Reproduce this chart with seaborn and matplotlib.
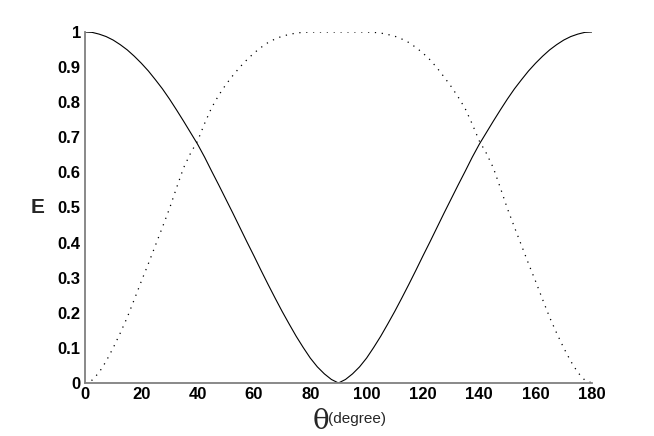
import matplotlib
matplotlib.use("Agg")
import matplotlib.pyplot as plt
import seaborn as sns
import pandas as pd

# angle in degrees, every 2.5 degrees
theta = [0, 2.5, 5, 7.5, 10, 12.5, 15, 17.5, 20, 22.5, 25, 27.5, 30, 32.5, 35, 37.5, 40, 42.5,
         45, 47.5, 50, 52.5, 55, 57.5, 60, 62.5, 65, 67.5, 70, 72.5, 75, 77.5, 80, 82.5, 85, 87.5,
         90, 92.5, 95, 97.5, 100, 102.5, 105, 107.5, 110, 112.5, 115, 117.5, 120, 122.5, 125,
         127.5, 130, 132.5, 135, 137.5, 140, 142.5, 145, 147.5, 150, 152.5, 155, 157.5, 160,
         162.5, 165, 167.5, 170, 172.5, 175, 177.5, 180]

# solid curve
e_solid = [1.0, 0.999, 0.994, 0.987, 0.977, 0.964, 0.949, 0.931, 0.911, 0.889, 0.864, 0.838,
           0.809, 0.778, 0.746, 0.713, 0.680, 0.643, 0.603, 0.564, 0.524, 0.484, 0.443, 0.402,
           0.362, 0.321, 0.281, 0.242, 0.204, 0.168, 0.133, 0.101, 0.071, 0.046, 0.026, 0.010,
           0.0,
           0.010, 0.026, 0.046, 0.071, 0.101, 0.133, 0.168, 0.204, 0.242, 0.281, 0.321, 0.362,
           0.402, 0.443, 0.484, 0.524, 0.564, 0.603, 0.643, 0.680, 0.713, 0.746, 0.778, 0.809,
           0.838, 0.864, 0.889, 0.911, 0.931, 0.949, 0.964, 0.977, 0.987, 0.994, 0.999, 1.0]

# dotted curve
e_dotted = [0.0, 0.008, 0.03, 0.062, 0.10, 0.142, 0.187, 0.238, 0.29, 0.34, 0.392, 0.444,
            0.497, 0.556, 0.613, 0.655, 0.69, 0.74, 0.785, 0.82, 0.85, 0.876, 0.90, 0.921,
            0.94, 0.956, 0.97, 0.98, 0.988, 0.993, 0.997, 0.999, 1.0, 1.0, 1.0, 1.0,
            1.0,
            1.0, 1.0, 1.0, 1.0, 0.999, 0.997, 0.993, 0.988, 0.98, 0.97, 0.956, 0.94, 0.921,
            0.898, 0.872, 0.845, 0.815, 0.782, 0.738, 0.69, 0.655, 0.613, 0.556, 0.497, 0.444,
            0.392, 0.34, 0.29, 0.238, 0.187, 0.142, 0.10, 0.062, 0.03, 0.008, 0.0]

x_ticks = [0, 20, 40, 60, 80, 100, 120, 140, 160, 180]
y_ticks = [0, 0.1, 0.2, 0.3, 0.4, 0.5, 0.6, 0.7, 0.8, 0.9, 1]
y_tick_labels = ["0", "0.1", "0.2", "0.3", "0.4", "0.5", "0.6", "0.7", "0.8", "0.9", "1"]

sns.set_style("white")
plt.rcParams["font.family"] = ["Liberation Sans", "DejaVu Sans"]
plt.rcParams["font.weight"] = "bold"

df = pd.DataFrame({"theta": theta, "solid": e_solid, "dotted": e_dotted})

fig = plt.figure(figsize=(6.54, 4.36), dpi=100)
ax = fig.add_axes([0.130, 0.1216, 0.775, 0.805])

sns.lineplot(data=df, x="theta", y="solid", ax=ax, color="black", linewidth=0.8)
sns.lineplot(data=df, x="theta", y="dotted", ax=ax, color="black", linewidth=0.9,
             dashes=False, linestyle=(0, (1, 4.5)))

ax.set_xlim(0, 180)
ax.set_ylim(0, 1)
ax.set_xticks(x_ticks)
ax.set_yticks(y_ticks)
ax.set_yticklabels(y_tick_labels)

for side in ["top", "right"]:
    ax.spines[side].set_visible(False)
for side in ["left", "bottom"]:
    ax.spines[side].set_color("#808080")
    ax.spines[side].set_linewidth(1.3)

ax.tick_params(axis="both", direction="in", length=4, width=1, color="#808080",
               labelsize=12, labelcolor="black")
ax.tick_params(axis="x", pad=3)
ax.tick_params(axis="y", pad=3)
for lbl in ax.get_xticklabels() + ax.get_yticklabels():
    lbl.set_fontweight("bold")

ax.set_xlabel("")
ax.set_ylabel("E", rotation=0, fontsize=15, fontweight="heavy", ha="center", va="center")
ax.yaxis.set_label_coords(-0.093, 0.5)

# x label: big theta with small "(degree)"
fig.text(0.490, 0.003, "θ", fontsize=20, family="DejaVu Serif", fontweight="normal",
         ha="center", va="bottom")
fig.text(0.501, 0.022, "(degree)", fontsize=11, fontweight="normal", ha="left", va="bottom")

fig.savefig("out.png", dpi=100)
